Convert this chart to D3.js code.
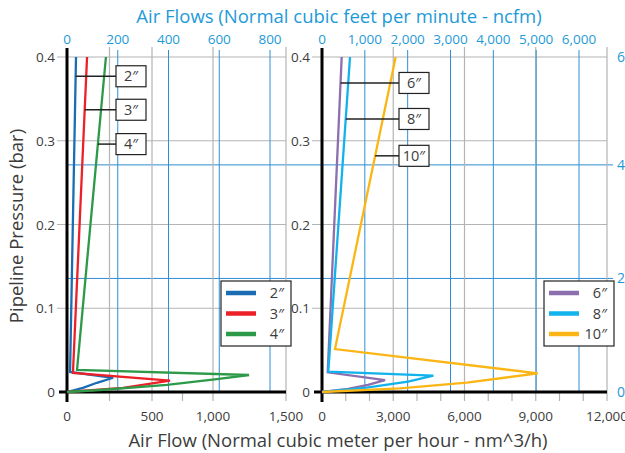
<!DOCTYPE html>
<html>
<head>
<meta charset="utf-8">
<script src="https://cdnjs.cloudflare.com/ajax/libs/d3/7.8.5/d3.min.js"></script>
<style>
  body { margin: 0; background: #fff; }
  text { font-family: 'Open Sans', 'Noto Sans', sans-serif; }
</style>
</head>
<body>
<div id="chart"></div>
<script>
// ---- data ----
var pressureTicks = [0, 0.1, 0.2, 0.3, 0.4];
var psiTicks = [0, 2, 4, 6];

var leftFlowTicks = [0, 500, 1000, 1500];
var leftFlowMarks = [250, 500, 750, 1000, 1500];
var leftFlowGrid = [250, 500, 1000, 1500];
var leftCfmTicks = [0, 200, 400, 600, 800];

var rightFlowTicks = [0, 3000, 6000, 9000, 12000];
var rightFlowMarks = [1000, 2000, 3000, 4000, 5000, 6000, 7000, 8000, 9000, 10000, 11000, 12000];
var rightFlowGrid = [3000, 6000, 9000, 12000];
var rightCfmTicks = [0, 1000, 2000, 3000, 4000, 5000, 6000];

var leftSizes = ['2″', '3″', '4″'];
var rightSizes = ['6″', '8″', '10″'];

// flow (nm3/h) and pressure (bar) for each pipe size
var flow2 = [0, 94, 176, 271, 18, 53];
var bar2 = [0, 0.005, 0.011, 0.017, 0.024, 0.4];
var flow3 = [0, 330, 648, 35, 118];
var bar3 = [0, 0.005, 0.0135, 0.0227, 0.4];
var flow4 = [0, 194, 623, 1027, 1247, 59, 229];
var bar4 = [0, 0.0024, 0.0084, 0.0155, 0.0203, 0.0265, 0.4];

var flow6 = [0, 1095, 1937, 2653, 240, 829];
var bar6 = [0, 0.0036, 0.0084, 0.0143, 0.0235, 0.4];
var flow8 = [0, 1811, 3621, 4688, 265, 1179];
var bar8 = [0, 0.0048, 0.0123, 0.0195, 0.0242, 0.4];
var flow10 = [0, 3284, 6093, 9082, 547, 3103];
var bar10 = [0, 0.0044, 0.0111, 0.0223, 0.0513, 0.4];

// pressure where each callout leader sits
var leftCalloutBar = [0.377, 0.337, 0.296];
var rightCalloutBar = [0.369, 0.326, 0.282];

var leftColors = ['#1a6db3', '#ec2027', '#2c9a48'];
var rightColors = ['#8b6fae', '#12b2ec', '#fbb615'];

var svgWidth = 625;
var svgHeight = 453;

var gridGray = '#b4b4b4';
var gridBlue = '#2f8ed3';
var labelBlue = '#1e9ad8';
var textGray = '#3c3c3c';

var svg = d3.select('#chart')
            .append('svg')
            .attr('width', svgWidth)
            .attr('height', svgHeight);

var yScale = d3.scaleLinear().domain([0, 0.4]).range([392, 57]);
var psiScale = d3.scaleLinear().domain([0, 5.9]).range([392, 57]).clamp(true);

var panels = [
  {
    x: d3.scaleLinear().domain([0, 500, 1000, 1500]).range([67, 152, 213, 286]),
    top: d3.scaleLinear().domain([0, 800]).range([67, 270]),
    ticks: leftFlowTicks, marks: leftFlowMarks, grid: leftFlowGrid, cfm: leftCfmTicks,
    series: [[flow2, bar2], [flow3, bar3], [flow4, bar4]],
    sizes: leftSizes, colors: leftColors, callout: leftCalloutBar,
    boxX: 116, legendX: 221
  },
  {
    x: d3.scaleLinear().domain([0, 12000]).range([322, 607]),
    top: d3.scaleLinear().domain([0, 6000]).range([322, 579]),
    ticks: rightFlowTicks, marks: rightFlowMarks, grid: rightFlowGrid, cfm: rightCfmTicks,
    series: [[flow6, bar6], [flow8, bar8], [flow10, bar10]],
    sizes: rightSizes, colors: rightColors, callout: rightCalloutBar,
    boxX: 399, legendX: 544
  }
];

// blue psi lines run across both panels
svg.selectAll('.psiGrid')
   .data(psiTicks.filter(d => d > 0 && d < 6))
   .enter()
   .append('line')
   .attr('x1', 67)
   .attr('x2', 613)
   .attr('y1', d => psiScale(d))
   .attr('y2', d => psiScale(d))
   .attr('stroke', gridBlue)
   .attr('stroke-width', 1);

svg.selectAll('.psiLabel')
   .data(psiTicks)
   .enter()
   .append('text')
   .attr('x', 617)
   .attr('y', d => psiScale(d) + 5)
   .attr('font-size', '14px')
   .attr('fill', labelBlue)
   .text(d => d);

panels.forEach(function(p) {
  var x0 = p.x.range()[0];
  var x1 = p.x.range()[p.x.range().length - 1];
  var g = svg.append('g');

  // gray pressure grid
  g.selectAll(null)
   .data(pressureTicks.filter(d => d > 0))
   .enter()
   .append('line')
   .attr('x1', x0 - 10)
   .attr('x2', x1)
   .attr('y1', d => yScale(d))
   .attr('y2', d => yScale(d))
   .attr('stroke', gridGray)
   .attr('stroke-width', 1.2);

  // gray flow grid + tick marks
  g.selectAll(null)
   .data(p.grid)
   .enter()
   .append('line')
   .attr('x1', d => p.x(d))
   .attr('x2', d => p.x(d))
   .attr('y1', 47)
   .attr('y2', 392)
   .attr('stroke', gridGray)
   .attr('stroke-width', 1.2);

  g.selectAll(null)
   .data(p.marks)
   .enter()
   .append('line')
   .attr('x1', d => p.x(d))
   .attr('x2', d => p.x(d))
   .attr('y1', 392)
   .attr('y2', 401)
   .attr('stroke', gridGray)
   .attr('stroke-width', 1.2);

  // blue ncfm grid
  g.selectAll(null)
   .data(p.cfm.filter(d => d > 0))
   .enter()
   .append('line')
   .attr('x1', d => p.top(d))
   .attr('x2', d => p.top(d))
   .attr('y1', 50)
   .attr('y2', 392)
   .attr('stroke', gridBlue)
   .attr('stroke-width', 1);

  g.selectAll(null)
   .data(p.cfm)
   .enter()
   .append('text')
   .attr('x', d => p.top(d))
   .attr('y', 44)
   .attr('text-anchor', 'middle')
   .attr('font-size', '13.5px')
   .attr('fill', labelBlue)
   .text(d => d3.format(',')(d));

  // pressure labels
  g.selectAll(null)
   .data(pressureTicks)
   .enter()
   .append('text')
   .attr('x', x0 - 12)
   .attr('y', d => yScale(d) + 5)
   .attr('text-anchor', 'end')
   .attr('font-size', '13.5px')
   .attr('fill', textGray)
   .text(d => d);

  // flow labels
  g.selectAll(null)
   .data(p.ticks)
   .enter()
   .append('text')
   .attr('x', d => p.x(d))
   .attr('y', 421)
   .attr('text-anchor', 'middle')
   .attr('font-size', '13.5px')
   .attr('fill', textGray)
   .text(d => d3.format(',')(d));

  // black axes
  g.append('line')
   .attr('x1', x0).attr('x2', x0)
   .attr('y1', 48).attr('y2', 402)
   .attr('stroke', '#000')
   .attr('stroke-width', 3);

  g.append('line')
   .attr('x1', x0 - 8).attr('x2', x1)
   .attr('y1', 392).attr('y2', 392)
   .attr('stroke', '#000')
   .attr('stroke-width', 3);

  // curves
  var line = d3.line()
               .x(d => p.x(d[0]))
               .y(d => yScale(d[1]));

  p.series.forEach(function(s, i) {
    var pts = s[0].map((f, k) => [f, s[1][k]]);
    g.append('path')
     .attr('d', line(pts))
     .attr('fill', 'none')
     .attr('stroke', p.colors[i])
     .attr('stroke-width', 2.3)
     .attr('stroke-linejoin', 'miter');
  });

  // callouts
  p.series.forEach(function(s, i) {
    var b = p.callout[i];
    var n = s[0].length;
    // flow on the rising leg at pressure b
    var fa = s[0][n - 2], fb = s[0][n - 1], pa = s[1][n - 2], pb = s[1][n - 1];
    var f = fa + (fb - fa) * (b - pa) / (pb - pa);
    var cy = yScale(b);
    g.append('line')
     .attr('x1', p.x(f)).attr('x2', p.boxX)
     .attr('y1', cy).attr('y2', cy)
     .attr('stroke', '#222')
     .attr('stroke-width', 1.5);
    g.append('rect')
     .attr('x', p.boxX).attr('y', cy - 10.5)
     .attr('width', 30).attr('height', 21)
     .attr('fill', '#fff')
     .attr('stroke', '#222')
     .attr('stroke-width', 1.2);
    g.append('text')
     .attr('x', p.boxX + 15).attr('y', cy + 5)
     .attr('text-anchor', 'middle')
     .attr('font-size', '14.5px')
     .attr('fill', textGray)
     .text(p.sizes[i]);
  });

  // legend
  var lg = g.append('g')
            .attr('transform', `translate(${p.legendX}, 281)`);
  lg.append('rect')
    .attr('width', 70).attr('height', 65)
    .attr('fill', '#fff')
    .attr('stroke', '#222')
    .attr('stroke-width', 1.2);
  p.sizes.forEach(function(sz, i) {
    lg.append('line')
      .attr('x1', 5).attr('x2', 35)
      .attr('y1', 12 + i * 20.5).attr('y2', 12 + i * 20.5)
      .attr('stroke', p.colors[i])
      .attr('stroke-width', 4.5);
    lg.append('text')
      .attr('x', 63).attr('y', 17 + i * 20.5)
      .attr('text-anchor', 'end')
      .attr('font-size', '14.5px')
      .attr('fill', textGray)
      .text(sz);
  });
});

// titles
svg.append('text')
   .attr('x', 339)
   .attr('y', 23)
   .attr('text-anchor', 'middle')
   .attr('font-size', '18.5px')
   .attr('fill', labelBlue)
   .text('Air Flows (Normal cubic feet per minute - ncfm)');

svg.append('text')
   .attr('x', 338)
   .attr('y', 447)
   .attr('text-anchor', 'middle')
   .attr('font-size', '18.5px')
   .attr('fill', textGray)
   .text('Air Flow (Normal cubic meter per hour - nm^3/h)');

svg.append('text')
   .attr('transform', 'rotate(-90)')
   .attr('x', -226)
   .attr('y', 23)
   .attr('text-anchor', 'middle')
   .attr('font-size', '18.5px')
   .attr('fill', textGray)
   .text('Pipeline Pressure (bar)');
</script>
</body>
</html>
